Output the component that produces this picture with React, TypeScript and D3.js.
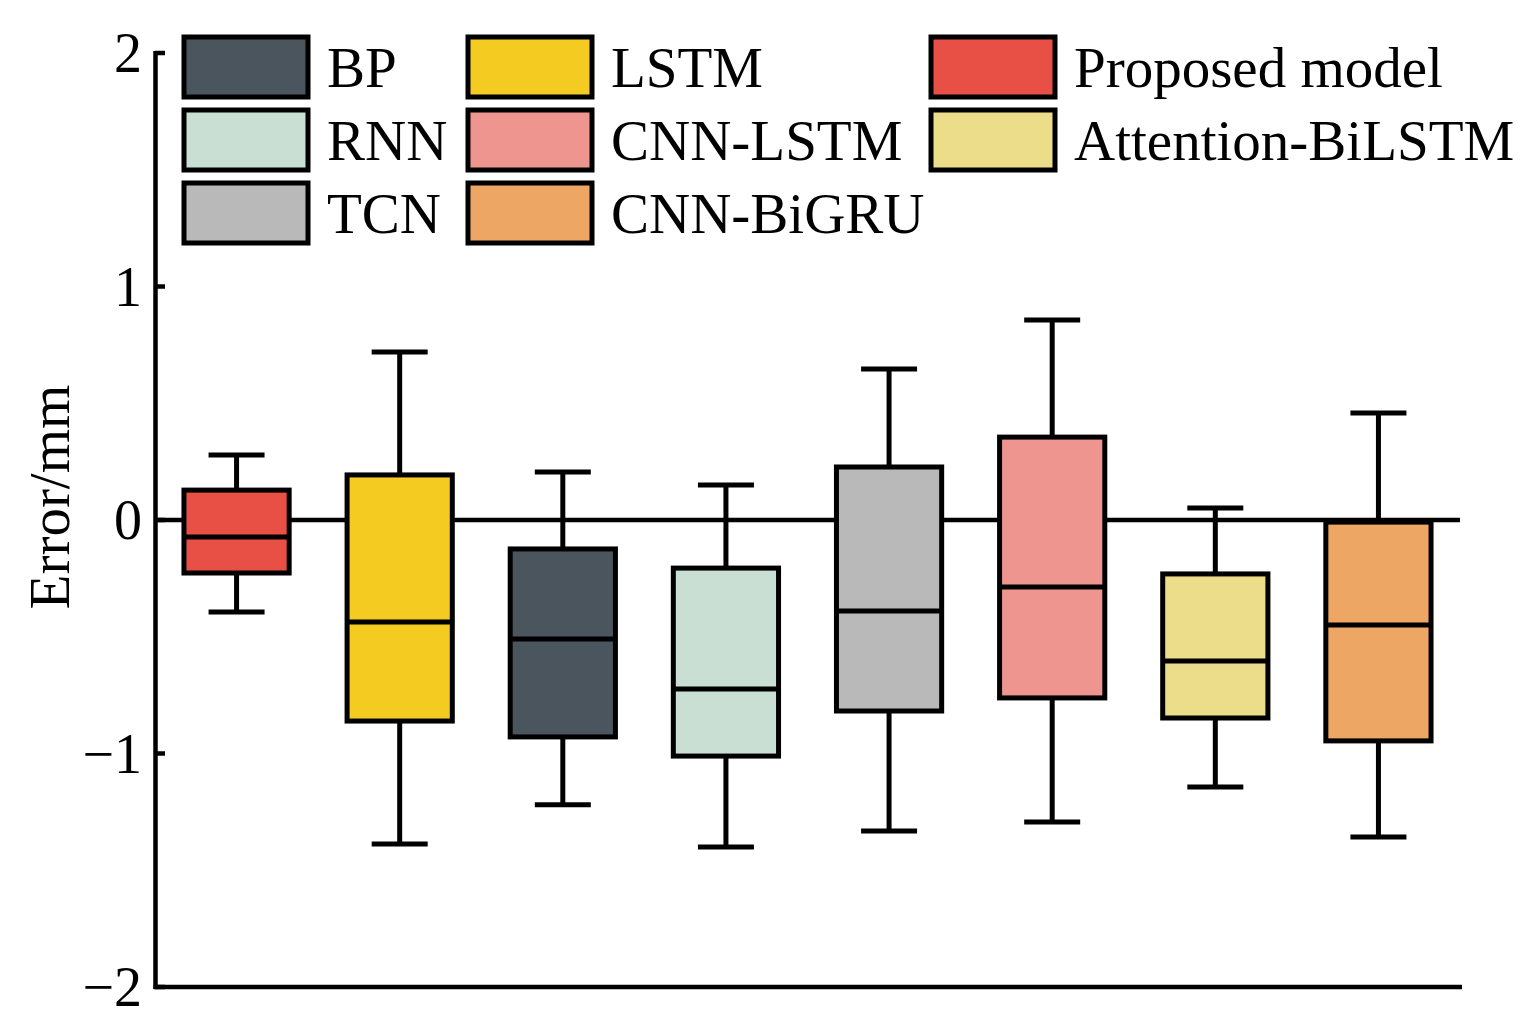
import React, { useEffect, useRef } from "react";
import * as d3 from "d3";

const models = ["Proposed model", "LSTM", "BP", "RNN", "TCN", "CNN-LSTM", "Attention-BiLSTM", "CNN-BiGRU"];
const maxVals = [0.278, 0.72, 0.206, 0.15, 0.647, 0.857, 0.051, 0.458];
const q3Vals = [0.128, 0.193, -0.124, -0.206, 0.227, 0.355, -0.231, -0.009];
const medVals = [-0.073, -0.437, -0.51, -0.724, -0.39, -0.287, -0.604, -0.45];
const q1Vals = [-0.227, -0.861, -0.929, -1.011, -0.818, -0.762, -0.848, -0.946];
const minVals = [-0.394, -1.388, -1.22, -1.4, -1.332, -1.293, -1.143, -1.358];
const colors = ["#e85045", "#f4cb20", "#4a555e", "#cadfd3", "#b9b9b9", "#ef9590", "#ecdd8a", "#eea665"];

const legendCols = [
  ["BP", "RNN", "TCN"],
  ["LSTM", "CNN-LSTM", "CNN-BiGRU"],
  ["Proposed model", "Attention-BiLSTM"],
];
const yTicks = [-2, -1, 0, 1, 2];

export default function App() {
  const ref = useRef<SVGSVGElement>(null);
  useEffect(() => {
    const svg = d3.select(ref.current);
    svg.selectAll("*").remove();
    const font = "'Liberation Serif', 'Times New Roman', serif";
    const sw = 5;
    const y = d3.scaleLinear().domain([-2, 2]).range([987, 53]);
    const x = d3.scaleBand<string>().domain(models).range([155, 1460]).paddingInner(0.355).paddingOuter(0.1775);
    const bw = x.bandwidth();
    const capW = 56;
    const colorOf = (m: string) => colors[models.indexOf(m)];

    // zero line
    svg.append("line").attr("x1", 157).attr("x2", 1460).attr("y1", y(0)).attr("y2", y(0))
      .attr("stroke", "#000").attr("stroke-width", 4.5);

    // boxes
    const g = svg.append("g");
    models.forEach((m, i) => {
      const x0 = x(m)!;
      const cx = x0 + bw / 2;
      const bg = g.append("g");
      bg.append("line").attr("x1", cx).attr("x2", cx).attr("y1", y(maxVals[i])).attr("y2", y(q3Vals[i]))
        .attr("stroke", "#000").attr("stroke-width", sw);
      bg.append("line").attr("x1", cx).attr("x2", cx).attr("y1", y(q1Vals[i])).attr("y2", y(minVals[i]))
        .attr("stroke", "#000").attr("stroke-width", sw);
      bg.append("line").attr("x1", cx - capW / 2).attr("x2", cx + capW / 2).attr("y1", y(maxVals[i])).attr("y2", y(maxVals[i]))
        .attr("stroke", "#000").attr("stroke-width", sw);
      bg.append("line").attr("x1", cx - capW / 2).attr("x2", cx + capW / 2).attr("y1", y(minVals[i])).attr("y2", y(minVals[i]))
        .attr("stroke", "#000").attr("stroke-width", sw);
      bg.append("rect").attr("x", x0).attr("width", bw).attr("y", y(q3Vals[i])).attr("height", y(q1Vals[i]) - y(q3Vals[i]))
        .attr("fill", colors[i]).attr("stroke", "#000").attr("stroke-width", sw);
      bg.append("line").attr("x1", x0).attr("x2", x0 + bw).attr("y1", y(medVals[i])).attr("y2", y(medVals[i]))
        .attr("stroke", "#000").attr("stroke-width", sw);
    });

    // axes
    svg.append("line").attr("x1", 155.5).attr("x2", 155.5).attr("y1", 51).attr("y2", 989)
      .attr("stroke", "#000").attr("stroke-width", 4.5);
    svg.append("line").attr("x1", 153.5).attr("x2", 1462).attr("y1", 987).attr("y2", 987)
      .attr("stroke", "#000").attr("stroke-width", 4.5);
    yTicks.forEach((t) => {
      svg.append("line").attr("x1", 155).attr("x2", 165).attr("y1", y(t)).attr("y2", y(t))
        .attr("stroke", "#000").attr("stroke-width", 4.5);
      svg.append("text").attr("x", 142).attr("y", y(t) + 19).attr("text-anchor", "end")
        .attr("font-family", font).attr("font-size", 56)
        .text(t < 0 ? "\u2212" + Math.abs(t) : String(t));
    });
    svg.append("text").attr("transform", "translate(69,497) rotate(-90)").attr("text-anchor", "middle")
      .attr("font-family", font).attr("font-size", 57).text("Error/mm");

    // legend
    const colX = [184, 468, 931];
    legendCols.forEach((col, ci) => {
      col.forEach((name, ri) => {
        const ly = 37 + ri * 73;
        svg.append("rect").attr("x", colX[ci]).attr("y", ly).attr("width", 124).attr("height", 60)
          .attr("fill", colorOf(name)).attr("stroke", "#000").attr("stroke-width", sw);
        svg.append("text").attr("x", colX[ci] + 143).attr("y", ly + 50)
          .attr("font-family", font).attr("font-size", 57).text(name);
      });
    });
  }, []);
  return (
    <svg ref={ref} width={1536} height={1034}
      style={{ position: "absolute", left: 0, top: 0, background: "#fff" }} />
  );
}
